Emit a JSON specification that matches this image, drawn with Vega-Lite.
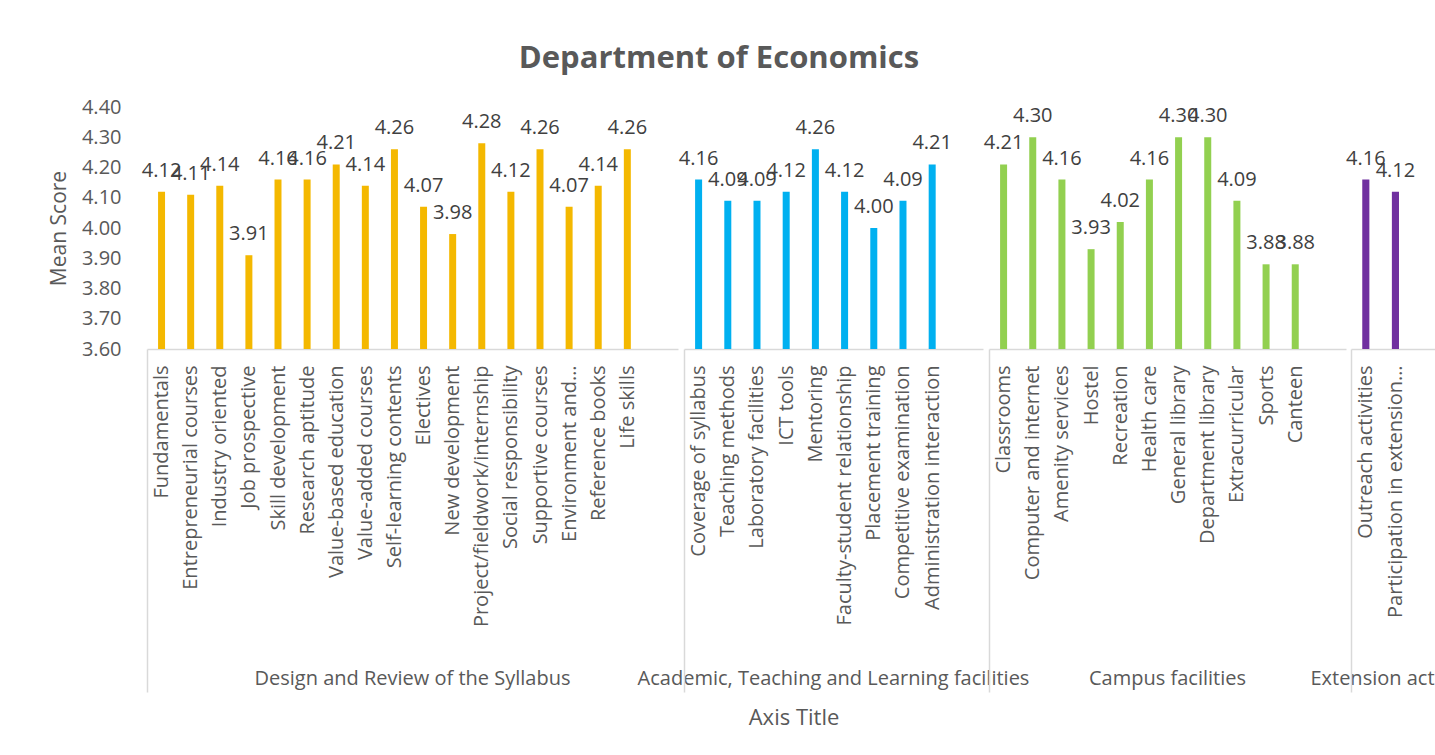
{
  "$schema": "https://vega.github.io/schema/vega-lite/v6.json",
  "padding": {"left": 48, "top": 43, "right": 0, "bottom": 0},
  "title": {
    "text": "Department of Economics",
    "fontSize": 31,
    "font": "Open Sans",
    "fontWeight": "bold",
    "color": "#595959",
    "anchor": "middle",
    "offset": 22,
    "dx": -49
  },
  "data": {
    "values": [
      {"group": "Design and Review of the Syllabus", "item": "Fundamentals", "value": 4.12},
      {"group": "Design and Review of the Syllabus", "item": "Entrepreneurial courses", "value": 4.11},
      {"group": "Design and Review of the Syllabus", "item": "Industry oriented", "value": 4.14},
      {"group": "Design and Review of the Syllabus", "item": "Job prospective", "value": 3.91},
      {"group": "Design and Review of the Syllabus", "item": "Skill development", "value": 4.16},
      {"group": "Design and Review of the Syllabus", "item": "Research aptitude", "value": 4.16},
      {"group": "Design and Review of the Syllabus", "item": "Value-based education", "value": 4.21},
      {"group": "Design and Review of the Syllabus", "item": "Value-added courses", "value": 4.14},
      {"group": "Design and Review of the Syllabus", "item": "Self-learning contents", "value": 4.26},
      {"group": "Design and Review of the Syllabus", "item": "Electives", "value": 4.07},
      {"group": "Design and Review of the Syllabus", "item": "New development", "value": 3.98},
      {"group": "Design and Review of the Syllabus", "item": "Project/fieldwork/internship", "value": 4.28},
      {"group": "Design and Review of the Syllabus", "item": "Social responsibility", "value": 4.12},
      {"group": "Design and Review of the Syllabus", "item": "Supportive courses", "value": 4.26},
      {"group": "Design and Review of the Syllabus", "item": "Environment and…", "value": 4.07},
      {"group": "Design and Review of the Syllabus", "item": "Reference books", "value": 4.14},
      {"group": "Design and Review of the Syllabus", "item": "Life skills", "value": 4.26},
      {"group": "Academic, Teaching and Learning facilities", "item": "Coverage of syllabus", "value": 4.16},
      {"group": "Academic, Teaching and Learning facilities", "item": "Teaching methods", "value": 4.09},
      {"group": "Academic, Teaching and Learning facilities", "item": "Laboratory facilities", "value": 4.09},
      {"group": "Academic, Teaching and Learning facilities", "item": "ICT tools", "value": 4.12},
      {"group": "Academic, Teaching and Learning facilities", "item": "Mentoring", "value": 4.26},
      {"group": "Academic, Teaching and Learning facilities", "item": "Faculty-student relationship", "value": 4.12},
      {"group": "Academic, Teaching and Learning facilities", "item": "Placement training", "value": 4.00},
      {"group": "Academic, Teaching and Learning facilities", "item": "Competitive examination", "value": 4.09},
      {"group": "Academic, Teaching and Learning facilities", "item": "Administration interaction", "value": 4.21},
      {"group": "Campus facilities", "item": "Classrooms", "value": 4.21},
      {"group": "Campus facilities", "item": "Computer and internet", "value": 4.30},
      {"group": "Campus facilities", "item": "Amenity services", "value": 4.16},
      {"group": "Campus facilities", "item": "Hostel", "value": 3.93},
      {"group": "Campus facilities", "item": "Recreation", "value": 4.02},
      {"group": "Campus facilities", "item": "Health care", "value": 4.16},
      {"group": "Campus facilities", "item": "General library", "value": 4.30},
      {"group": "Campus facilities", "item": "Department library", "value": 4.30},
      {"group": "Campus facilities", "item": "Extracurricular", "value": 4.09},
      {"group": "Campus facilities", "item": "Sports", "value": 3.88},
      {"group": "Campus facilities", "item": "Canteen", "value": 3.88},
      {"group": "Extension activities", "item": "Outreach activities", "value": 4.16},
      {"group": "Extension activities", "item": "Participation in extension…", "value": 4.12}
    ]
  },
  "facet": {
    "column": {
      "field": "group",
      "type": "nominal",
      "sort": ["Design and Review of the Syllabus", "Academic, Teaching and Learning facilities", "Campus facilities", "Extension activities"],
      "title": "Axis Title",
      "header": {
        "labelOrient": "bottom",
        "titleOrient": "bottom",
        "labelFont": "Open Sans",
        "labelFontSize": 20,
        "labelColor": "#595959",
        "labelPadding": -24,
        "titleFont": "Open Sans",
        "titleFontSize": 22,
        "titleFontWeight": "normal",
        "titleColor": "#595959",
        "titlePadding": 5
      }
    }
  },
  "spacing": 0,
  "spec": {
    "width": {"step": 29},
    "height": 242,
    "encoding": {
      "x": {
        "field": "item",
        "type": "nominal",
        "sort": null,
        "scale": {"paddingInner": 0.76, "paddingOuter": 1.035, "align": 0.19},
        "axis": {
          "title": null,
          "labelAngle": -90,
          "labelFont": "Open Sans",
          "labelFontSize": 20,
          "labelColor": "#595959",
          "labelLimit": 400,
          "domainColor": "#d9d9d9",
          "domainWidth": 1.5,
          "tickColor": "#d9d9d9",
          "tickWidth": 1.5,
          "tickSize": 343,
          "tickOffset": -14.9,
          "labelOffset": 14.9,
          "labelPadding": -327,
          "tickOpacity": {"condition": {"test": "datum.index === 0", "value": 1}, "value": 0}
        }
      },
      "y": {
        "field": "value",
        "type": "quantitative",
        "scale": {"domain": [3.6, 4.4], "nice": false, "zero": false},
        "axis": {
          "title": "Mean Score",
          "titleFont": "Open Sans",
          "titleFontSize": 21,
          "titleFontWeight": "normal",
          "titleColor": "#595959",
          "titlePadding": 12,
          "values": [3.6, 3.7, 3.8, 3.9, 4.0, 4.1, 4.2, 4.3, 4.4],
          "format": ".2f",
          "labelFont": "Open Sans",
          "labelFontSize": 20,
          "labelColor": "#595959",
          "domain": false,
          "ticks": false,
          "tickSize": 0,
          "grid": false,
          "labelPadding": 20
        }
      }
    },
    "layer": [
      {
        "mark": {"type": "bar"},
        "encoding": {
          "y2": {"datum": 3.6},
          "color": {
            "field": "group",
            "type": "nominal",
            "legend": null,
            "scale": {
              "domain": ["Design and Review of the Syllabus", "Academic, Teaching and Learning facilities", "Campus facilities", "Extension activities"],
              "range": ["#F4B800", "#00B0F0", "#92D050", "#7030A0"]
            }
          }
        }
      },
      {
        "mark": {"type": "text", "dy": -15, "baseline": "alphabetic", "font": "Open Sans", "fontSize": 20, "color": "#404040"},
        "encoding": {
          "text": {"field": "value", "type": "quantitative", "format": ".2f"}
        }
      }
    ]
  },
  "resolve": {"scale": {"x": "independent"}},
  "config": {
    "view": {"stroke": null},
    "font": "Open Sans"
  }
}
